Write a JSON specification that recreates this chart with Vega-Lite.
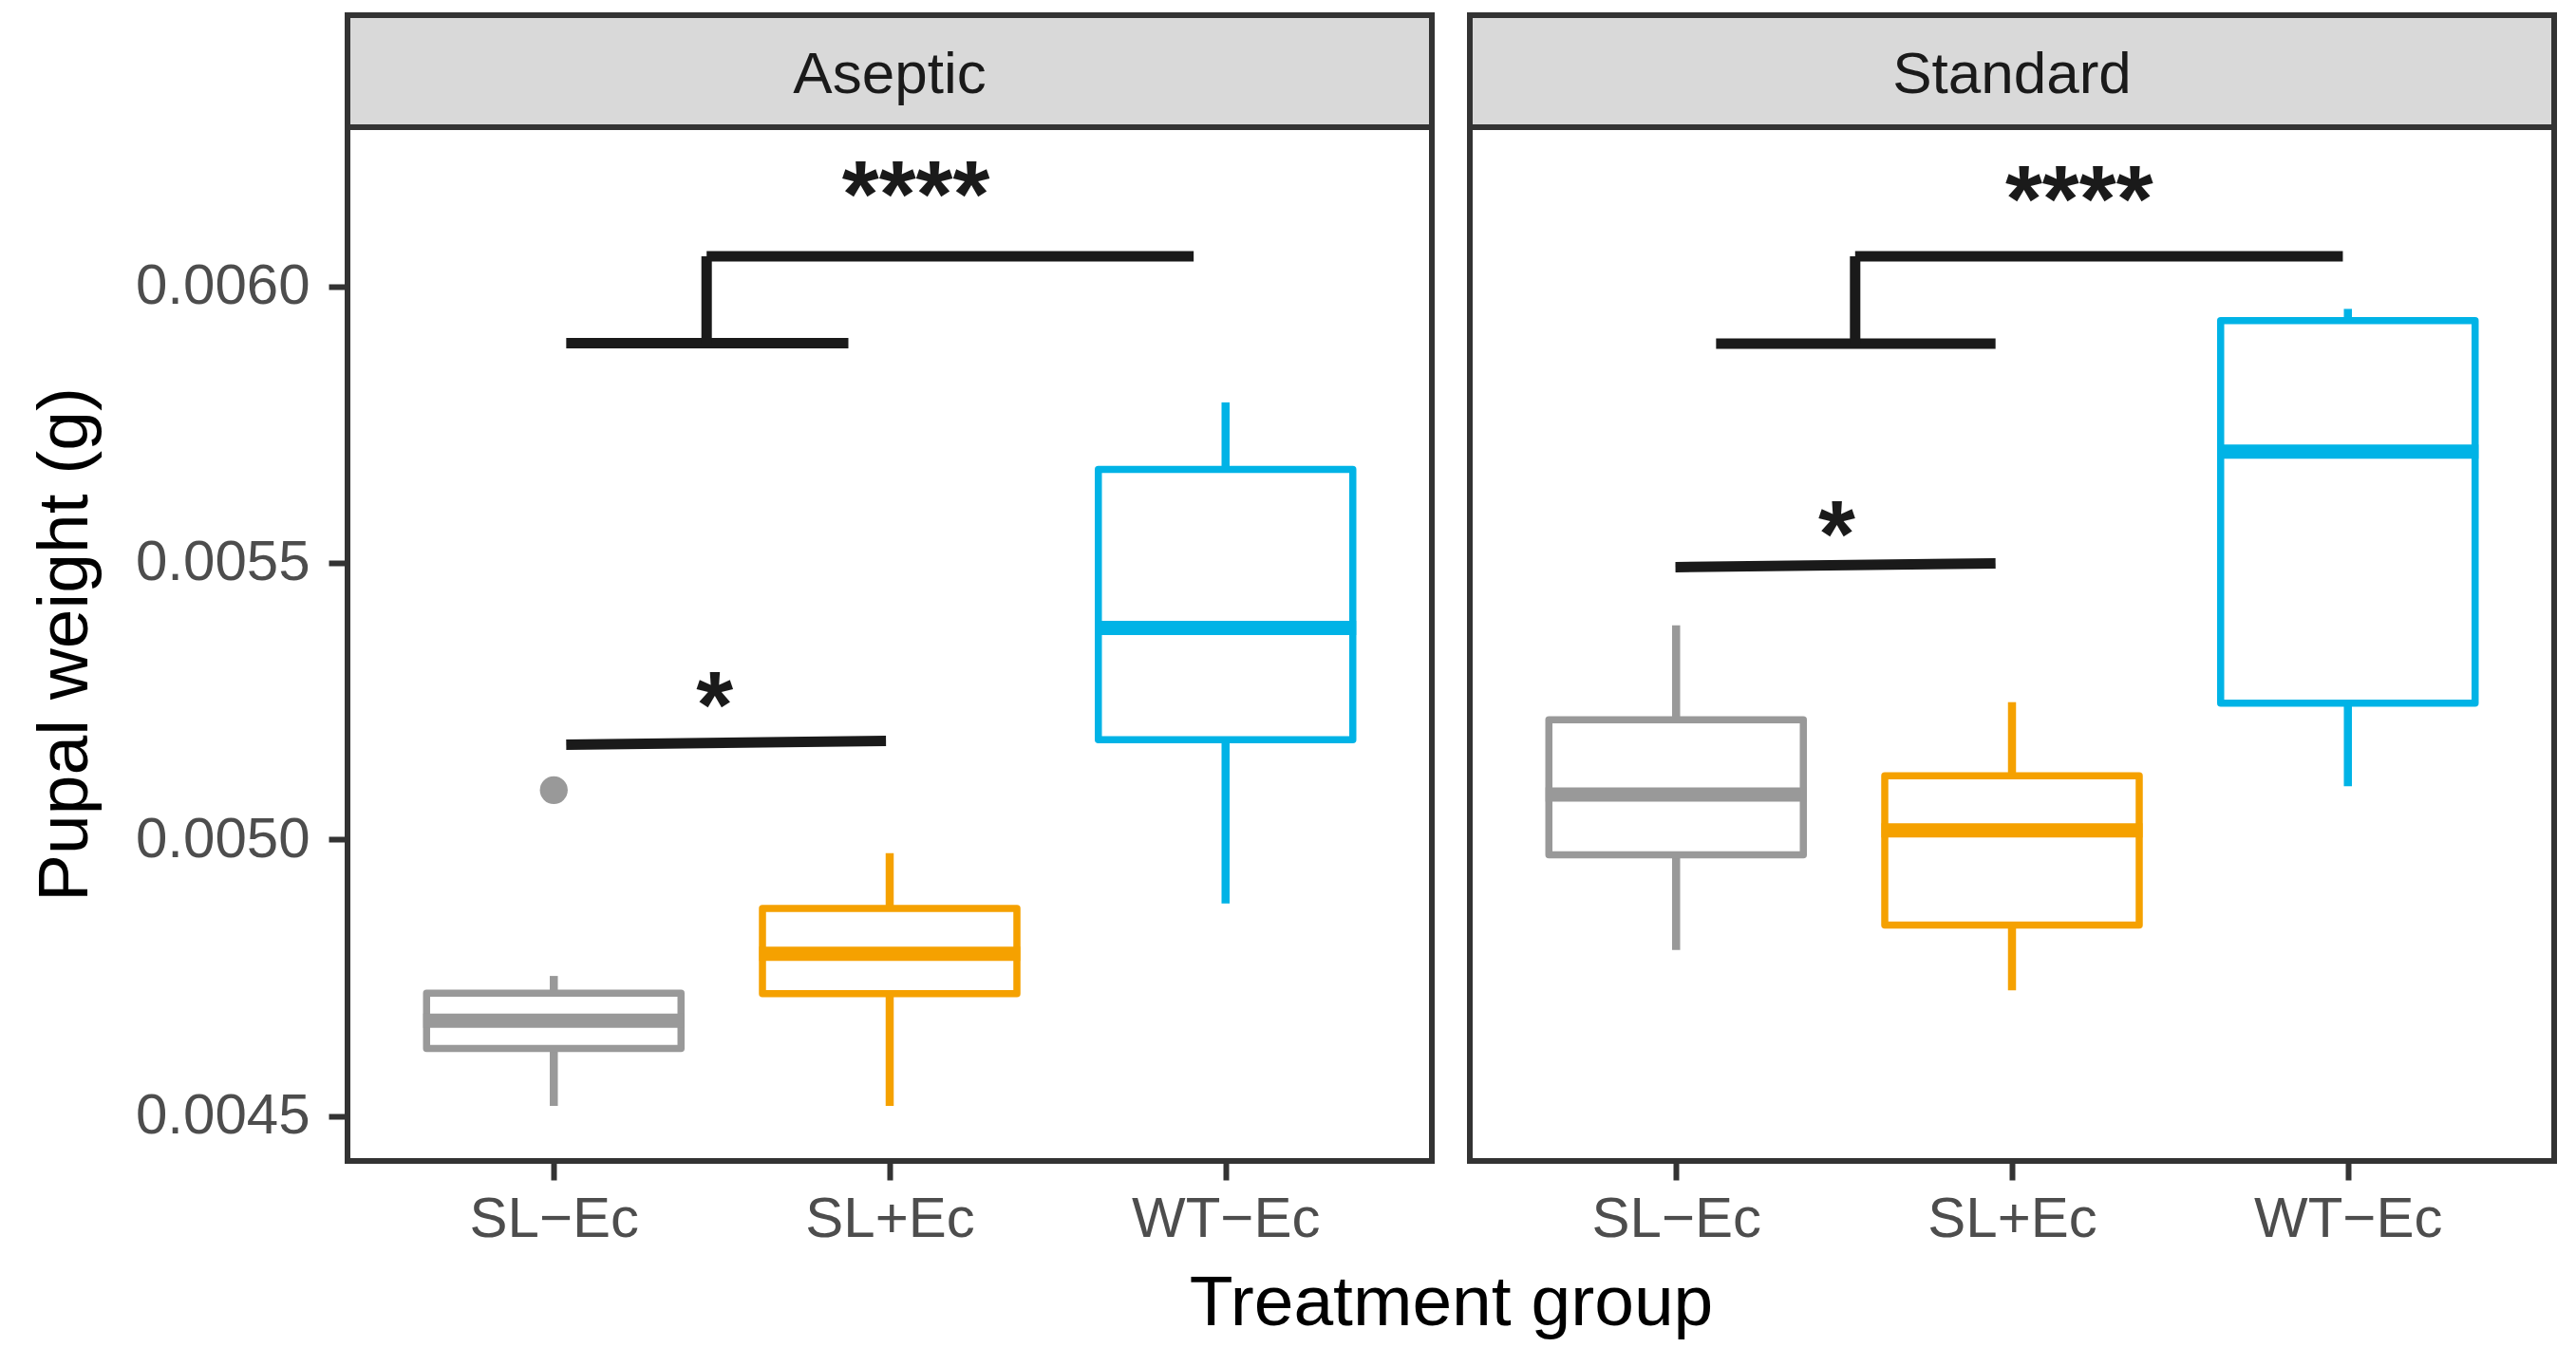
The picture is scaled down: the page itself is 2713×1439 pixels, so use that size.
{
  "$schema": "https://vega.github.io/schema/vega-lite/v6.json",
  "background": "white",
  "padding": {"left": 28, "top": 13, "right": 10, "bottom": 10},
  "datasets": {
    "panels": [{"panel": "Aseptic"}, {"panel": "Standard"}],
    "boxes": [
      {"panel": "Aseptic", "group": "SL−Ec", "pos": 1, "lower": 0.004518, "q1": 0.004622, "median": 0.004672, "q3": 0.004722, "upper": 0.004753},
      {"panel": "Aseptic", "group": "SL+Ec", "pos": 2, "lower": 0.004518, "q1": 0.004721, "median": 0.004793, "q3": 0.004875, "upper": 0.004975},
      {"panel": "Aseptic", "group": "WT−Ec", "pos": 3, "lower": 0.004884, "q1": 0.005180, "median": 0.005382, "q3": 0.005669, "upper": 0.005790},
      {"panel": "Standard", "group": "SL−Ec", "pos": 1, "lower": 0.004800, "q1": 0.004972, "median": 0.005081, "q3": 0.005216, "upper": 0.005387},
      {"panel": "Standard", "group": "SL+Ec", "pos": 2, "lower": 0.004727, "q1": 0.004845, "median": 0.005016, "q3": 0.005115, "upper": 0.005248},
      {"panel": "Standard", "group": "WT−Ec", "pos": 3, "lower": 0.005096, "q1": 0.005246, "median": 0.005701, "q3": 0.005938, "upper": 0.005959}
    ],
    "outliers": [
      {"panel": "Aseptic", "group": "SL−Ec", "pos": 1, "value": 0.005089}
    ],
    "brackets": [
      {"panel": "Aseptic", "xa": 1.037, "xb": 1.989, "ya": 0.005171, "yb": 0.005178},
      {"panel": "Aseptic", "xa": 1.037, "xb": 1.877, "ya": 0.005897, "yb": 0.005897},
      {"panel": "Aseptic", "xa": 1.455, "xb": 1.455, "ya": 0.005897, "yb": 0.006054},
      {"panel": "Aseptic", "xa": 1.455, "xb": 2.905, "ya": 0.006054, "yb": 0.006054},
      {"panel": "Standard", "xa": 0.998, "xb": 1.951, "ya": 0.005492, "yb": 0.005499},
      {"panel": "Standard", "xa": 1.119, "xb": 1.951, "ya": 0.005896, "yb": 0.005896},
      {"panel": "Standard", "xa": 1.533, "xb": 1.533, "ya": 0.005896, "yb": 0.006054},
      {"panel": "Standard", "xa": 1.533, "xb": 2.985, "ya": 0.006054, "yb": 0.006054}
    ],
    "stars": [
      {"panel": "Aseptic", "x": 1.479, "y": 0.005263, "label": "*"},
      {"panel": "Aseptic", "x": 2.078, "y": 0.006186, "label": "****"},
      {"panel": "Standard", "x": 1.478, "y": 0.005571, "label": "*"},
      {"panel": "Standard", "x": 2.2, "y": 0.006178, "label": "****"}
    ]
  },
  "title": {"text": "Treatment group", "orient": "bottom", "anchor": "middle", "fontSize": 75, "font": "Liberation Sans", "fontWeight": "normal", "color": "#000000", "dx": 168, "offset": 20},
  "columns": 2,
  "spacing": {"row": 0, "column": 40},
  "bounds": "flush",
  "concat": [
    {
      "width": 1142, "height": 118,
      "view": {"fill": "#D9D9D9", "stroke": "#333333", "strokeWidth": 6},
      "data": {"name": "panels"},
      "transform": [{"filter": "datum.panel === 'Aseptic'"}],
      "mark": {"type": "text", "fontSize": 62, "font": "Liberation Sans", "color": "#1A1A1A", "baseline": "middle", "dy": 4},
      "encoding": {"text": {"field": "panel", "type": "nominal"}}
    },
    {
      "width": 1142, "height": 118,
      "view": {"fill": "#D9D9D9", "stroke": "#333333", "strokeWidth": 6},
      "data": {"name": "panels"},
      "transform": [{"filter": "datum.panel === 'Standard'"}],
      "mark": {"type": "text", "fontSize": 62, "font": "Liberation Sans", "color": "#1A1A1A", "baseline": "middle", "dy": 4},
      "encoding": {"text": {"field": "panel", "type": "nominal"}}
    },
    {
      "width": 1142, "height": 1089,
      "view": {"fill": "white", "stroke": "#333333", "strokeWidth": 6},
      "layer": [
        {
          "data": {"name": "boxes"},
          "transform": [{"filter": "datum.panel === 'Aseptic'"}],
          "mark": {"type": "rule", "strokeWidth": 8.5},
          "encoding": {
            "x": {"field": "pos", "type": "quantitative", "title": null, "scale": {"domain": [0.4, 3.6], "nice": false, "zero": false}, "axis": {"title": null, "values": [1, 2, 3], "labelExpr": "datum.value === 1 ? 'SL−Ec' : datum.value === 2 ? 'SL+Ec' : 'WT−Ec'", "labelOverlap": false, "labelFlush": false}},
            "y": {"field": "lower", "type": "quantitative", "scale": {"domain": [0.0044185, 0.0062875], "nice": false, "zero": false}, "axis": {"title": "Pupal weight (g)", "values": [0.0045, 0.005, 0.0055, 0.006], "format": ".4f", "labelOverlap": false}},
            "y2": {"field": "q1"},
            "color": {"field": "group", "type": "nominal", "scale": {"domain": ["SL−Ec", "SL+Ec", "WT−Ec"], "range": ["#999999", "#F5A100", "#00B3E6"]}, "legend": null}
          }
        },
        {
          "data": {"name": "boxes"},
          "transform": [{"filter": "datum.panel === 'Aseptic'"}],
          "mark": {"type": "rule", "strokeWidth": 8.5},
          "encoding": {
            "x": {"field": "pos", "type": "quantitative"},
            "y": {"field": "q3", "type": "quantitative"},
            "y2": {"field": "upper"},
            "color": {"field": "group", "type": "nominal", "legend": null}
          }
        },
        {
          "data": {"name": "boxes"},
          "transform": [{"filter": "datum.panel === 'Aseptic'"}],
          "mark": {"type": "bar", "width": 268, "fill": "white", "strokeWidth": 7.5, "strokeJoin": "round"},
          "encoding": {
            "x": {"field": "pos", "type": "quantitative"},
            "y": {"field": "q1", "type": "quantitative"},
            "y2": {"field": "q3"},
            "stroke": {"field": "group", "type": "nominal", "scale": {"domain": ["SL−Ec", "SL+Ec", "WT−Ec"], "range": ["#999999", "#F5A100", "#00B3E6"]}, "legend": null}
          }
        },
        {
          "data": {"name": "boxes"},
          "transform": [{"filter": "datum.panel === 'Aseptic'"}],
          "mark": {"type": "tick", "orient": "horizontal", "size": 275, "thickness": 15, "opacity": 1},
          "encoding": {
            "x": {"field": "pos", "type": "quantitative"},
            "y": {"field": "median", "type": "quantitative"},
            "color": {"field": "group", "type": "nominal", "legend": null}
          }
        },
        {
          "data": {"name": "outliers"},
          "transform": [{"filter": "datum.panel === 'Aseptic'"}],
          "mark": {"type": "point", "filled": true, "size": 860, "opacity": 1, "color": "#999999"},
          "encoding": {
            "x": {"field": "pos", "type": "quantitative"},
            "y": {"field": "value", "type": "quantitative"}
          }
        },
        {
          "data": {"name": "brackets"},
          "transform": [{"filter": "datum.panel === 'Aseptic'"}],
          "mark": {"type": "rule", "strokeWidth": 11, "color": "#1A1A1A"},
          "encoding": {
            "x": {"field": "xa", "type": "quantitative"},
            "x2": {"field": "xb"},
            "y": {"field": "ya", "type": "quantitative"},
            "y2": {"field": "yb"}
          }
        },
        {
          "data": {"name": "stars"},
          "transform": [{"filter": "datum.panel === 'Aseptic'"}],
          "mark": {"type": "text", "fontSize": 100, "fontWeight": "bold", "font": "Liberation Sans", "baseline": "alphabetic", "dy": 46, "color": "#1A1A1A"},
          "encoding": {
            "x": {"field": "x", "type": "quantitative"},
            "y": {"field": "y", "type": "quantitative"},
            "text": {"field": "label", "type": "nominal"}
          }
        }
      ]
    },
    {
      "width": 1142, "height": 1089,
      "view": {"fill": "white", "stroke": "#333333", "strokeWidth": 6},
      "layer": [
        {
          "data": {"name": "boxes"},
          "transform": [{"filter": "datum.panel === 'Standard'"}],
          "mark": {"type": "rule", "strokeWidth": 8.5},
          "encoding": {
            "x": {"field": "pos", "type": "quantitative", "scale": {"domain": [0.4, 3.6], "nice": false, "zero": false}, "axis": {"title": null, "values": [1, 2, 3], "labelExpr": "datum.value === 1 ? 'SL−Ec' : datum.value === 2 ? 'SL+Ec' : 'WT−Ec'", "labelOverlap": false, "labelFlush": false}},
            "y": {"field": "lower", "type": "quantitative", "scale": {"domain": [0.0044185, 0.0062875], "nice": false, "zero": false}, "axis": null},
            "y2": {"field": "q1"},
            "color": {"field": "group", "type": "nominal", "scale": {"domain": ["SL−Ec", "SL+Ec", "WT−Ec"], "range": ["#999999", "#F5A100", "#00B3E6"]}, "legend": null}
          }
        },
        {
          "data": {"name": "boxes"},
          "transform": [{"filter": "datum.panel === 'Standard'"}],
          "mark": {"type": "rule", "strokeWidth": 8.5},
          "encoding": {
            "x": {"field": "pos", "type": "quantitative"},
            "y": {"field": "q3", "type": "quantitative", "axis": null},
            "y2": {"field": "upper"},
            "color": {"field": "group", "type": "nominal", "legend": null}
          }
        },
        {
          "data": {"name": "boxes"},
          "transform": [{"filter": "datum.panel === 'Standard'"}],
          "mark": {"type": "bar", "width": 268, "fill": "white", "strokeWidth": 7.5, "strokeJoin": "round"},
          "encoding": {
            "x": {"field": "pos", "type": "quantitative"},
            "y": {"field": "q1", "type": "quantitative", "axis": null},
            "y2": {"field": "q3"},
            "stroke": {"field": "group", "type": "nominal", "scale": {"domain": ["SL−Ec", "SL+Ec", "WT−Ec"], "range": ["#999999", "#F5A100", "#00B3E6"]}, "legend": null}
          }
        },
        {
          "data": {"name": "boxes"},
          "transform": [{"filter": "datum.panel === 'Standard'"}],
          "mark": {"type": "tick", "orient": "horizontal", "size": 275, "thickness": 15, "opacity": 1},
          "encoding": {
            "x": {"field": "pos", "type": "quantitative"},
            "y": {"field": "median", "type": "quantitative", "axis": null},
            "color": {"field": "group", "type": "nominal", "legend": null}
          }
        },
        {
          "data": {"name": "brackets"},
          "transform": [{"filter": "datum.panel === 'Standard'"}],
          "mark": {"type": "rule", "strokeWidth": 11, "color": "#1A1A1A"},
          "encoding": {
            "x": {"field": "xa", "type": "quantitative"},
            "x2": {"field": "xb"},
            "y": {"field": "ya", "type": "quantitative", "axis": null},
            "y2": {"field": "yb"}
          }
        },
        {
          "data": {"name": "stars"},
          "transform": [{"filter": "datum.panel === 'Standard'"}],
          "mark": {"type": "text", "fontSize": 100, "fontWeight": "bold", "font": "Liberation Sans", "baseline": "alphabetic", "dy": 46, "color": "#1A1A1A"},
          "encoding": {
            "x": {"field": "x", "type": "quantitative"},
            "y": {"field": "y", "type": "quantitative", "axis": null},
            "text": {"field": "label", "type": "nominal"}
          }
        }
      ]
    }
  ],
  "config": {
    "font": "Liberation Sans",
    "axis": {
      "grid": false,
      "domain": false,
      "labelFont": "Liberation Sans",
      "labelFontSize": 60,
      "labelColor": "#4D4D4D",
      "labelLimit": 600,
      "tickColor": "#333333",
      "tickWidth": 6,
      "tickSize": 20,
      "titleFont": "Liberation Sans",
      "titleFontSize": 75,
      "titleFontWeight": "normal",
      "titleColor": "#000000",
      "titleLimit": 2000
    },
    "axisY": {"labelPadding": 20, "titlePadding": 59},
    "axisX": {"labelPadding": 12}
  }
}
